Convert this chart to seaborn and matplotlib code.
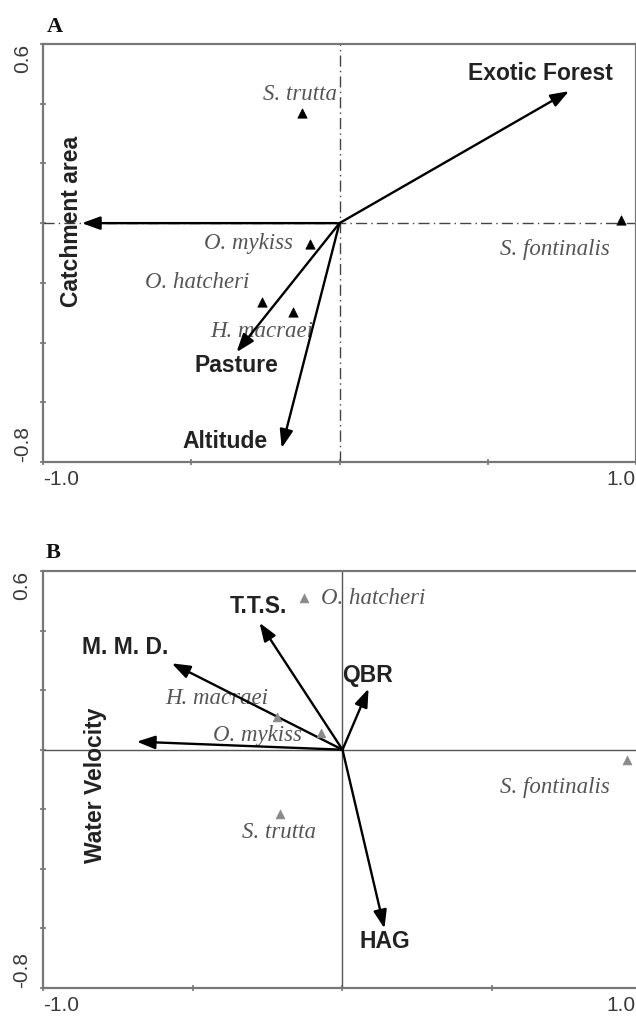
import matplotlib
matplotlib.use("Agg")
import matplotlib.pyplot as plt
import seaborn as sns
import pandas as pd

sns.set_style("white")
plt.rcParams['font.family'] = ['Liberation Sans', 'DejaVu Sans']

# ---------------- Panel A data ----------------
a_species = ["S. trutta", "S. fontinalis", "O. mykiss", "O. hatcheri", "H. macraei"]
a_sp_x = [-0.128, 0.95, -0.10, -0.26, -0.158]
a_sp_y = [0.368, 0.01, -0.07, -0.265, -0.298]
a_vars = ["Exotic Forest", "Catchment area", "Pasture", "Altitude"]
a_var_x = [0.774, -0.869, -0.347, -0.195]
a_var_y = [0.442, 0.0, -0.432, -0.753]

# ---------------- Panel B data ----------------
b_species = ["O. hatcheri", "S. fontinalis", "S. trutta", "H. macraei", "O. mykiss"]
b_sp_x = [-0.127, 0.95, -0.21, -0.22, -0.073]
b_sp_y = [0.51, -0.034, -0.215, 0.11, 0.057]
b_vars = ["T.T.S.", "M. M. D.", "Water Velocity", "QBR", "HAG"]
b_var_x = [-0.277, -0.57, -0.687, 0.087, 0.14]
b_var_y = [0.426, 0.29, 0.027, 0.205, -0.60]

x_ticks = [-1.0, -0.5, 0.0, 0.5, 1.0]
y_ticks = [-0.8, -0.6, -0.4, -0.2, 0.0, 0.2, 0.4, 0.6]

W, H = 636, 1017
fig = plt.figure(figsize=(W / 100, H / 100), dpi=100)

def px_axes(left, right, top, bottom):
    return fig.add_axes([left / W, 1 - bottom / H, (right - left) / W, (bottom - top) / H])

axA = px_axes(43, 636, 44, 462)
axB = px_axes(43, 642, 571, 988)

SPINE = "#777777"
TXT = "#3a3a3a"
SP_COL = "#555555"

def style_axes(ax):
    ax.set_xlim(-1.0, 1.0)
    ax.set_ylim(-0.8, 0.6)
    ax.set_xticks(x_ticks)
    ax.set_yticks(y_ticks)
    ax.set_xticklabels([])
    ax.set_yticklabels([])
    ax.tick_params(direction="inout", length=5, width=1.2, color=SPINE,
                   bottom=True, left=True)
    for s in ax.spines.values():
        s.set_color(SPINE)
        s.set_linewidth(1.6)
    ax.set_xlabel("")
    ax.set_ylabel("")
    # extreme tick labels
    tr_y = ax.get_yaxis_transform()
    ax.text(-0.035, 0.6, "0.6", transform=tr_y, rotation=90, ha="center",
            va="top", fontsize=15, color=TXT)
    ax.text(-0.035, -0.8, "-0.8", transform=tr_y, rotation=90, ha="center",
            va="bottom", fontsize=15, color=TXT)
    tr_x = ax.get_xaxis_transform()
    ax.text(-1.0, -0.02, "-1.0", transform=tr_x, ha="left", va="top",
            fontsize=15, color=TXT)

def right_label(ax):
    # "1.0" end label, kept inside the figure's right edge
    bb = ax.get_position()
    fig.text(635 / W, bb.y0 - 0.02 * bb.height, "1.0", ha="right", va="top",
             fontsize=15, color=TXT)

def arrows(ax, xs, ys):
    for x, y in zip(xs, ys):
        ax.annotate("", xy=(x, y), xytext=(0, 0),
                    arrowprops=dict(arrowstyle="-|>,head_length=1.1,head_width=0.4",
                                    color="black", lw=1.7, shrinkA=0, shrinkB=0),
                    zorder=4)

# ---------------- Panel A ----------------
dfA = pd.DataFrame({"x": a_sp_x, "y": a_sp_y, "sp": a_species})
axA.axvline(0, color="#444444", lw=1.0, ls=(0, (8, 3, 1, 3)), zorder=1)
axA.axhline(0, color="#444444", lw=1.0, ls=(0, (8, 3, 1, 3)), zorder=1)
sns.scatterplot(data=dfA, x="x", y="y", marker="^", s=45, color="black",
                edgecolor="black", ax=axA, zorder=5, legend=False)
arrows(axA, a_var_x, a_var_y)
style_axes(axA)
right_label(axA)

def pos(ax, px, py):
    # convert pixel coordinates in the reference to data coords
    inv = ax.transData.inverted()
    return inv.transform((px, H - py))

fig.canvas.draw()
sp_font = dict(family=["Liberation Serif", "DejaVu Serif"], style="italic",
               fontsize=16.5, color=SP_COL)
var_font = dict(fontweight="bold", fontsize=16.5, color="#222222")

a_sp_lab = {"S. trutta": (300, 95), "S. fontinalis": (555, 250),
            "O. mykiss": (248, 244), "O. hatcheri": (197, 283),
            "H. macraei": (262, 332)}
for name, (px, py) in a_sp_lab.items():
    x, y = pos(axA, px, py)
    axA.text(x, y, name, ha="center", va="center", zorder=3, **sp_font)

a_var_lab = {"Exotic Forest": (540, 73), "Pasture": (236, 366),
             "Altitude": (225, 442)}
for name, (px, py) in a_var_lab.items():
    x, y = pos(axA, px, py)
    axA.text(x, y, name, ha="center", va="center", zorder=6, **var_font)
x, y = pos(axA, 71, 221)
axA.text(x, y, "Catchment area", rotation=90, ha="center", va="center",
         zorder=6, **var_font)

fig.text(55 / W, 1 - 27 / H, "A", ha="center", va="center", fontsize=16,
         fontweight="bold", family=["Liberation Serif", "DejaVu Serif"], color="#111111")

# ---------------- Panel B ----------------
dfB = pd.DataFrame({"x": b_sp_x, "y": b_sp_y, "sp": b_species})
axB.axvline(0, color="#555555", lw=1.0, zorder=1)
axB.axhline(0, color="#555555", lw=1.0, zorder=1)
sns.scatterplot(data=dfB, x="x", y="y", marker="^", s=40, color="#8a8a8a",
                edgecolor="#8a8a8a", ax=axB, zorder=5, legend=False)
arrows(axB, b_var_x, b_var_y)
style_axes(axB)
right_label(axB)
fig.canvas.draw()

b_sp_lab = {"O. hatcheri": (373, 598), "S. fontinalis": (555, 788),
            "S. trutta": (279, 833), "H. macraei": (217, 698),
            "O. mykiss": (257, 736)}
for name, (px, py) in b_sp_lab.items():
    x, y = pos(axB, px, py)
    axB.text(x, y, name, ha="center", va="center", zorder=3, **sp_font)

b_var_lab = {"T.T.S.": (258, 606), "M. M. D.": (125, 647), "QBR": (368, 675),
             "HAG": (385, 942)}
for name, (px, py) in b_var_lab.items():
    x, y = pos(axB, px, py)
    axB.text(x, y, name, ha="center", va="center", zorder=6, **var_font)
x, y = pos(axB, 96, 785)
axB.text(x, y, "Water Velocity", rotation=90, ha="center", va="center",
         zorder=6, **var_font)

fig.text(53 / W, 1 - 553 / H, "B", ha="center", va="center", fontsize=16,
         fontweight="bold", family=["Liberation Serif", "DejaVu Serif"], color="#111111")

fig.savefig("out.png", dpi=100)
